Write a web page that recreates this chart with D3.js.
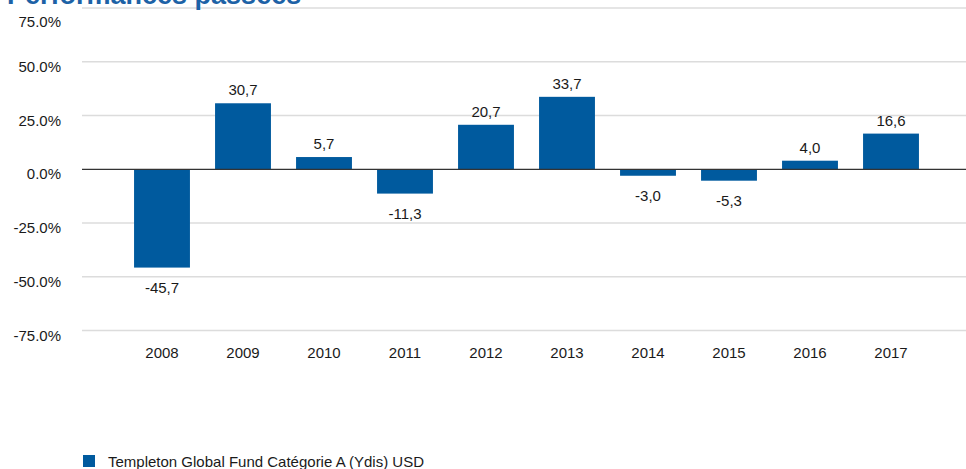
<!DOCTYPE html>
<html>
<head>
<meta charset="utf-8">
<script src="https://cdn.jsdelivr.net/npm/d3@7"></script>
<style>
  body { margin: 0; background: #fff; }
  svg { display: block; font-family: "Liberation Sans", Arial, sans-serif; }
</style>
</head>
<body>
<svg id="chart" width="966" height="469"></svg>
<script>
// chart data
var years = ["2008", "2009", "2010", "2011", "2012", "2013", "2014", "2015", "2016", "2017"];
var perf = [-45.7, 30.7, 5.7, -11.3, 20.7, 33.7, -3.0, -5.3, 4.0, 16.6];
var yTicks = [75, 50, 25, 0, -25, -50, -75];
var seriesName = "Templeton Global Fund Catégorie A (Ydis) USD";
var title = "Performances passées";

var blue = "#005a9e";
var svg = d3.select("#chart");

var x = d3.scaleBand().domain(years).range([121.5, 931.5]).paddingInner(0.31).paddingOuter(0.155);
var y = d3.scaleLinear().domain([-75, 75]).range([330.6, 8]);

// gridlines
svg.append("g").selectAll("line")
    .data(yTicks.filter(function(d) { return d !== 0; }))
    .enter().append("line")
    .attr("x1", 82).attr("x2", 966)
    .attr("y1", function(d) { return y(d); })
    .attr("y2", function(d) { return y(d); })
    .attr("stroke", "#dcdcdc").attr("stroke-width", 1.5);

// y labels
var fmt = function(d) { return d.toFixed(1) + "%"; };
svg.append("g").selectAll("text")
    .data(yTicks)
    .enter().append("text")
    .attr("x", 61)
    .attr("y", function(d) { return Math.max(y(d) + 10, 26.5); })
    .attr("text-anchor", "end")
    .attr("font-size", 15)
    .attr("fill", "#1a1a1a")
    .text(fmt);

// bars
svg.append("g").selectAll("rect")
    .data(perf)
    .enter().append("rect")
    .attr("x", function(d, i) { return x(years[i]); })
    .attr("width", x.bandwidth())
    .attr("y", function(d) { return y(Math.max(d, 0)); })
    .attr("height", function(d) { return Math.abs(y(d) - y(0)); })
    .attr("fill", blue);

// zero line
svg.append("line")
    .attr("x1", 82).attr("x2", 966)
    .attr("y1", y(0)).attr("y2", y(0))
    .attr("stroke", "#333").attr("stroke-width", 1.2);

// value labels
svg.append("g").selectAll("text")
    .data(perf)
    .enter().append("text")
    .attr("x", function(d, i) { return x(years[i]) + x.bandwidth() / 2; })
    .attr("y", function(d) { return d >= 0 ? y(d) - 8 : y(d) + 25; })
    .attr("text-anchor", "middle")
    .attr("font-size", 15)
    .attr("fill", "#1a1a1a")
    .text(function(d) { return d.toFixed(1).replace(".", ","); });

// x labels
svg.append("g").selectAll("text")
    .data(years)
    .enter().append("text")
    .attr("x", function(d) { return x(d) + x.bandwidth() / 2; })
    .attr("y", 358)
    .attr("text-anchor", "middle")
    .attr("font-size", 15)
    .attr("fill", "#1a1a1a")
    .text(function(d) { return d; });

// title (cut at top like the original)
svg.append("text")
    .attr("x", 7).attr("y", 4)
    .attr("font-size", 27)
    .attr("font-weight", "bold")
    .attr("fill", "#1d62a6")
    .text(title);

// legend
svg.append("rect")
    .attr("x", 83).attr("y", 455).attr("width", 12).attr("height", 12)
    .attr("fill", blue);
svg.append("text")
    .attr("x", 108).attr("y", 467)
    .attr("font-size", 15)
    .attr("fill", "#1a1a1a")
    .text(seriesName);
</script>
</body>
</html>
